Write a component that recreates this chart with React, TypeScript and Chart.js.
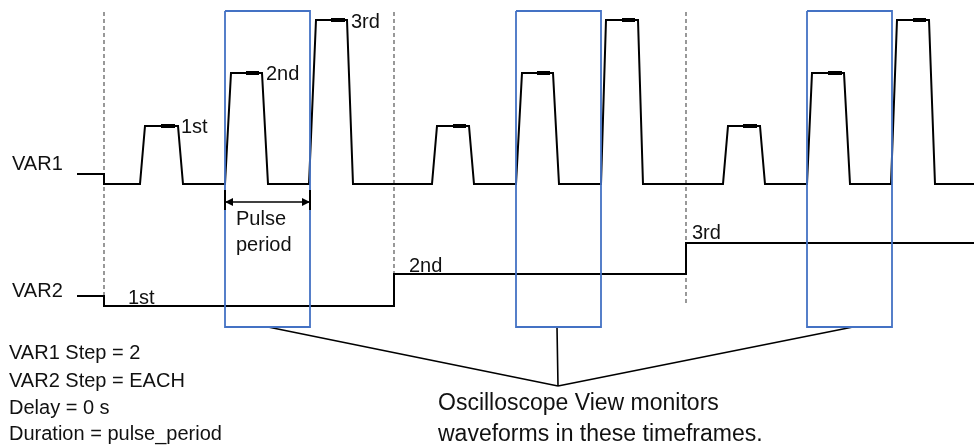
import React, { useEffect, useRef } from "react";
import { Chart, registerables } from "chart.js";

Chart.register(...registerables);

const W = 974;
const H = 445;

// VAR1 waveform: time and level (level axis grows downward)
const var1Time = [77, 104, 104, 140, 145, 178, 183, 225, 231, 262, 268, 309, 316, 347, 353, 432, 437, 469, 474, 516, 522, 553, 559, 601, 606, 638, 643, 723, 728, 760, 765, 807, 812, 844, 850, 891, 897, 929, 935, 974];
const var1Level = [174, 174, 184, 184, 126, 126, 184, 184, 73, 73, 184, 184, 20, 20, 184, 184, 126, 126, 184, 184, 73, 73, 184, 184, 20, 20, 184, 184, 126, 126, 184, 184, 73, 73, 184, 184, 20, 20, 184, 184];

// Measurement markers on each VAR1 pulse top
const markerStart = [161, 246, 331, 453, 537, 622, 743, 828, 913];
const markerEnd = [175, 259, 345, 466, 550, 635, 757, 842, 926];
const markerLevel = [126, 73, 20, 126, 73, 20, 126, 73, 20];

// VAR2 waveform
const var2Time = [77, 104, 104, 394, 394, 686, 686, 974];
const var2Level = [296, 296, 306, 306, 274, 274, 243, 243];

// Dashed step boundaries
const stepTime = [104, 394, 686];
const stepTop = [12, 12, 12];
const stepBottom = [296, 274, 306];

// Oscilloscope view timeframes
const frameStart = [225, 516, 807];
const frameEnd = [310, 601, 892];
const frameTop = 11;
const frameBottom = 327;

// Callout connectors
const calloutFrom = [268, 557, 853];
const calloutApex = { x: 558, y: 386 };

// Pulse period arrow
const arrowStart = 225;
const arrowEnd = 310;
const arrowLevel = 202;
const tickTop = 190;
const tickBottom = 210;

type Lbl = { text: string; x: number; y: number; size: number };
const labels: Lbl[] = [
  { text: "VAR1", x: 12, y: 170, size: 20 },
  { text: "VAR2", x: 12, y: 297, size: 20 },
  { text: "1st", x: 181, y: 133, size: 20 },
  { text: "2nd", x: 266, y: 80, size: 20 },
  { text: "3rd", x: 351, y: 28, size: 20 },
  { text: "1st", x: 128, y: 304, size: 20 },
  { text: "2nd", x: 409, y: 272, size: 20 },
  { text: "3rd", x: 692, y: 239, size: 20 },
  { text: "Pulse", x: 236, y: 225, size: 20 },
  { text: "period", x: 236, y: 251, size: 20 },
  { text: "VAR1 Step = 2", x: 9, y: 359, size: 20 },
  { text: "VAR2 Step = EACH", x: 9, y: 387, size: 20 },
  { text: "Delay = 0 s", x: 9, y: 414, size: 20 },
  { text: "Duration = pulse_period", x: 9, y: 440, size: 20 },
  { text: "Oscilloscope View monitors", x: 438, y: 410, size: 23 },
  { text: "waveforms in these timeframes.", x: 438, y: 441, size: 23 },
];

type P = { x: number; y: number | null };
const pts = (xs: number[], ys: number[]): P[] => xs.map((x, i) => ({ x, y: ys[i] }));
const joinSegs = (segs: P[][]): P[] => {
  const out: P[] = [];
  segs.forEach((s, i) => {
    if (i > 0) out.push({ x: s[0].x, y: null });
    out.push(...s);
  });
  return out;
};

const FONT = "'Liberation Sans', Arial, sans-serif";

const textPlugin = {
  id: "diagramText",
  afterDatasetsDraw(chart: any) {
    const { ctx, scales } = chart;
    ctx.save();
    ctx.fillStyle = "#111";
    ctx.textAlign = "left";
    ctx.textBaseline = "alphabetic";
    labels.forEach((l) => {
      ctx.font = `${l.size}px ${FONT}`;
      ctx.fillText(l.text, scales.x.getPixelForValue(l.x), scales.y.getPixelForValue(l.y));
    });
    // arrowheads on the pulse period arrow
    const meta = chart.getDatasetMeta(2);
    if (meta && meta.data.length >= 2) {
      const a = meta.data[0];
      const b = meta.data[meta.data.length - 1];
      ctx.fillStyle = "#000";
      const len = 8;
      const half = 4;
      ctx.beginPath();
      ctx.moveTo(a.x, a.y);
      ctx.lineTo(a.x + len, a.y - half);
      ctx.lineTo(a.x + len, a.y + half);
      ctx.closePath();
      ctx.fill();
      ctx.beginPath();
      ctx.moveTo(b.x, b.y);
      ctx.lineTo(b.x - len, b.y - half);
      ctx.lineTo(b.x - len, b.y + half);
      ctx.closePath();
      ctx.fill();
    }
    ctx.restore();
  },
};

export default function App() {
  const ref = useRef<HTMLCanvasElement | null>(null);

  useEffect(() => {
    document.body.style.margin = "0";
    document.body.style.background = "#fff";
    if (!ref.current) return;

    const boxes = joinSegs(
      frameStart.map((s, i) => [
        { x: s, y: frameTop },
        { x: frameEnd[i], y: frameTop },
        { x: frameEnd[i], y: frameBottom },
        { x: s, y: frameBottom },
        { x: s, y: frameTop },
      ])
    );
    const ticks = joinSegs([
      [{ x: arrowStart, y: tickTop }, { x: arrowStart, y: tickBottom }],
      [{ x: arrowEnd, y: tickTop }, { x: arrowEnd, y: tickBottom }],
    ]);
    const arrow = [
      { x: arrowStart, y: arrowLevel },
      { x: arrowEnd, y: arrowLevel },
    ];
    const markers = joinSegs(
      markerStart.map((s, i) => [
        { x: s, y: markerLevel[i] },
        { x: markerEnd[i], y: markerLevel[i] },
      ])
    );
    const dashed = joinSegs(
      stepTime.map((t, i) => [
        { x: t, y: stepTop[i] },
        { x: t, y: stepBottom[i] },
      ])
    );
    const callouts = joinSegs(
      calloutFrom.map((x) => [
        { x, y: frameBottom },
        { x: calloutApex.x, y: calloutApex.y },
      ])
    );

    const base = {
      pointRadius: 0,
      pointHoverRadius: 0,
      tension: 0,
      spanGaps: false,
      fill: false,
      clip: false as any,
      borderCapStyle: "butt" as const,
      borderJoinStyle: "miter" as const,
    };

    const chart = new Chart(ref.current, {
      type: "line",
      data: {
        datasets: [
          { ...base, label: "ticks", data: ticks, borderColor: "#000", borderWidth: 2, order: 0 },
          { ...base, label: "frames", data: boxes, borderColor: "#4472C4", borderWidth: 1.8, order: 1 },
          { ...base, label: "arrow", data: arrow, borderColor: "#000", borderWidth: 1.5, order: 2 },
          { ...base, label: "markers", data: markers, borderColor: "#000", borderWidth: 4, order: 3 },
          { ...base, label: "VAR1", data: pts(var1Time, var1Level), borderColor: "#000", borderWidth: 2, order: 4 },
          { ...base, label: "VAR2", data: pts(var2Time, var2Level), borderColor: "#000", borderWidth: 2, order: 5 },
          { ...base, label: "steps", data: dashed, borderColor: "#555", borderWidth: 1.2, borderDash: [4, 3], order: 6 },
          { ...base, label: "callouts", data: callouts, borderColor: "#000", borderWidth: 1.6, order: 7 },
        ] as any,
      },
      options: {
        animation: false,
        responsive: false,
        maintainAspectRatio: false,
        events: [],
        layout: { padding: 0 },
        plugins: { legend: { display: false }, tooltip: { enabled: false } },
        scales: {
          x: { type: "linear", min: 0, max: W, display: false },
          y: { type: "linear", min: 0, max: H, reverse: true, display: false },
        },
      },
      plugins: [textPlugin],
    });
    return () => chart.destroy();
  }, []);

  return (
    <div style={{ width: W, height: H, background: "#fff" }}>
      <canvas ref={ref} width={W} height={H} style={{ display: "block" }} />
    </div>
  );
}
